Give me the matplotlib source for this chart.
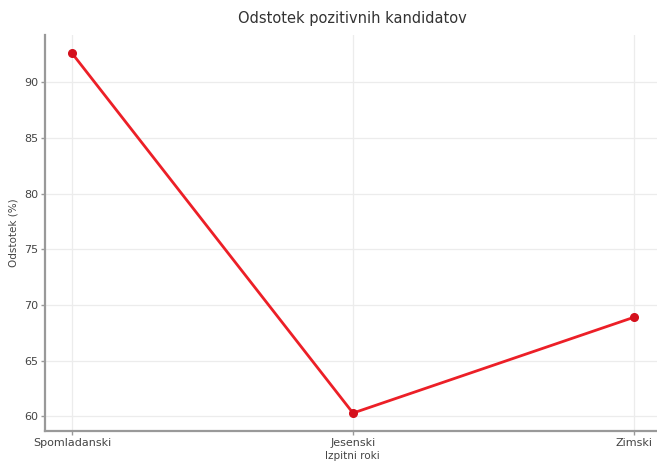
import matplotlib
matplotlib.use("Agg")
import matplotlib.pyplot as plt

roki = ["Spomladanski", "Jesenski", "Zimski"]
odstotek = [92.6, 60.3, 68.9]

fig = plt.figure(figsize=(6.57, 4.63), dpi=100)
ax = fig.add_axes([0.0685, 0.069, 0.935, 0.855])

ax.plot(roki, odstotek, color="#ec1f27", linewidth=2, marker="o", markersize=5.5,
        markerfacecolor="#d4101c", markeredgecolor="#d4101c", zorder=3)

ax.set_xlim(-0.096, 2.09)
ax.set_title("Odstotek pozitivnih kandidatov", fontsize=10.5, color="#333333", pad=9)
ax.set_xlabel("Izpitni roki", fontsize=7.5, color="#444444", labelpad=2)
ax.set_ylabel("Odstotek (%)", fontsize=7.5, color="#444444", labelpad=4)

ax.grid(True, color="#ececec", linewidth=0.9)
ax.set_axisbelow(True)
for s in ["top", "right"]:
    ax.spines[s].set_visible(False)
for s in ["left", "bottom"]:
    ax.spines[s].set_color("#999999")
    ax.spines[s].set_linewidth(1.6)
ax.tick_params(axis="both", labelsize=8, labelcolor="#444444", color="#999999",
               length=3, width=1, pad=2)

fig.savefig("out.png", dpi=100)
